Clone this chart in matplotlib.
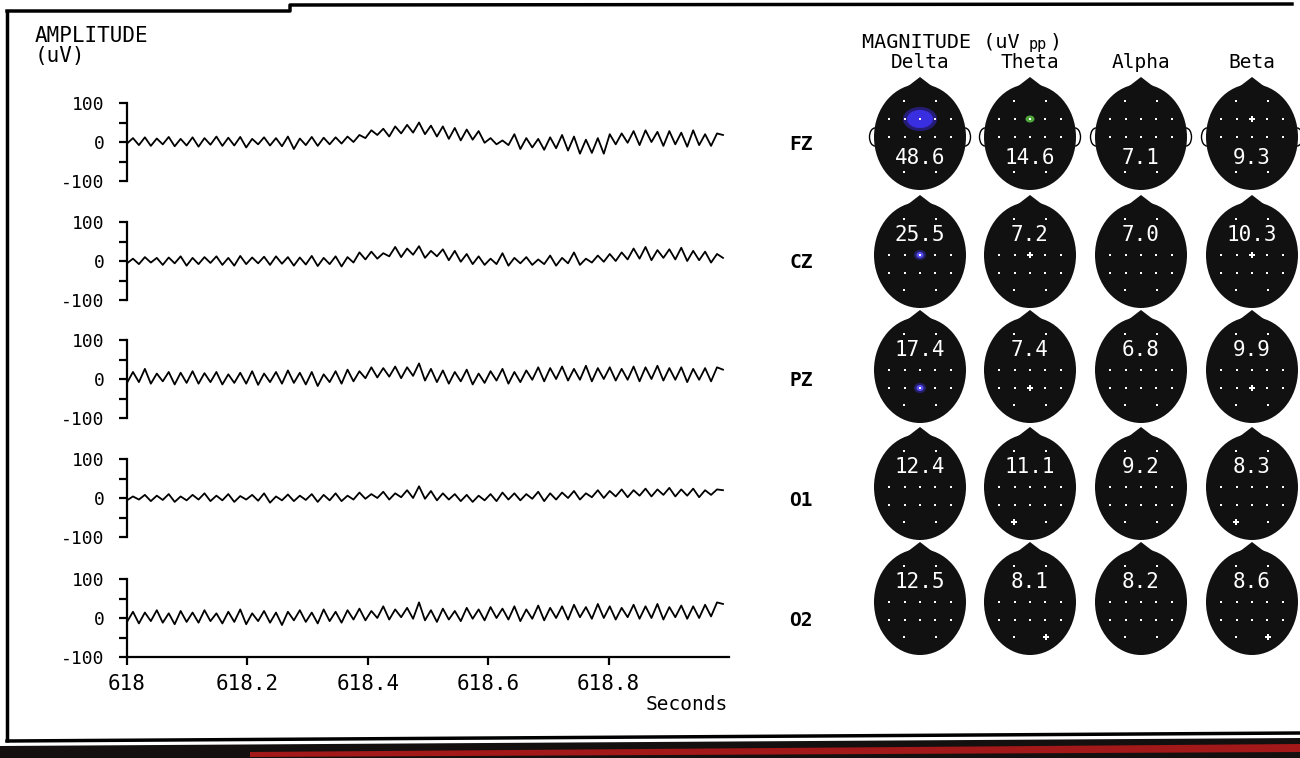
import numpy as np
import matplotlib.pyplot as plt
from matplotlib.patches import Ellipse, Polygon

plt.rcParams['font.family'] = ['DejaVu Sans Mono', 'DejaVu Sans']

W, H = 1300, 758

# ---- data ----
channels = ['FZ', 'CZ', 'PZ', 'O1', 'O2']
bands = ['Delta', 'Theta', 'Alpha', 'Beta']
magnitude = [[48.6, 14.6, 7.1, 9.3],
             [25.5, 7.2, 7.0, 10.3],
             [17.4, 7.4, 6.8, 9.9],
             [12.4, 11.1, 9.2, 8.3],
             [12.5, 8.1, 8.2, 8.6]]
xticks = [618, 618.2, 618.4, 618.6, 618.8]
xticklabels = ['618', '618.2', '618.4', '618.6', '618.8']

# trough / peak pairs of each trace (uV), last value is the end point
fz = [(-4, 10), (-8, 12), (-10, 9), (-6, 13), (-11, 8), (-9, 12), (-12, 10), (-7, 14), (-10, 11),
      (-9, 13), (-14, 8), (-6, 12), (-9, 10), (-11, 14), (-18, 9), (-8, 13), (-10, 11),
      (-6, 12), (-4, 14), (0, 18),
      (10, 30), (18, 34), (14, 40), (22, 44), (24, 50), (20, 42), (14, 40), (8, 36), (4, 32), (6, 28),
      (-2, 10), (-6, 4), (-8, 20), (-18, 10), (-14, 8), (-20, 12), (-16, 18), (-22, 14), (-30, 6),
      (-28, 10), (-30, 20),
      (-6, 22), (-2, 28), (-8, 30), (0, 26), (-10, 28), (-6, 24), (-12, 30), (-8, 20), (-10, 22)]
fz_end = 18
cz = [(-6, 6), (-8, 10), (-4, 8), (-10, 9), (-6, 12), (-12, 8), (-8, 10), (-5, 12), (-10, 8),
      (-12, 13), (-8, 9), (-6, 11),
      (-10, 12), (-7, 10), (-12, 9), (-9, 13), (-13, 8), (-8, 12), (-14, 10),
      (-4, 22), (4, 24), (6, 20),
      (12, 36), (10, 32), (16, 38), (8, 26), (12, 30),
      (2, 26), (-2, 18), (-8, 12),
      (-10, 6), (-8, 20), (-12, 8), (-6, 10),
      (-10, 4), (-8, 14), (-12, 8), (-6, 22), (-10, 6),
      (-4, 14), (-2, 18), (0, 22),
      (4, 32), (6, 36), (2, 28), (8, 30), (4, 34), (0, 26), (2, 24), (-4, 18)]
cz_end = 8
pz = [(-10, 18), (-8, 26), (-12, 14), (-6, 18), (-14, 16), (-10, 20), (-12, 15), (-8, 18),
      (-14, 12), (-10, 16), (-12, 20), (-15, 14), (-8, 18), (-12, 22), (-10, 16), (-14, 18),
      (-18, 12), (-8, 20), (-12, 24), (-6, 20),
      (2, 30), (4, 28), (6, 32), (2, 30), (8, 40),
      (-4, 26), (-8, 22), (-12, 18), (-6, 24), (-14, 14), (-10, 20), (-4, 26), (-12, 18), (-8, 22),
      (-2, 30), (-6, 28), (0, 32), (-4, 26), (-2, 34), (-6, 28), (0, 30), (-4, 26), (-2, 32),
      (-6, 30), (0, 34), (-4, 28), (-2, 30), (-8, 26), (-2, 28), (-6, 30)]
pz_end = 24
o1 = [(-6, 4), (-4, 8), (-8, 6), (-5, 10), (-10, 4), (-6, 8), (-4, 12), (-8, 6), (-6, 10),
      (-10, 5), (-4, 8), (-7, 12), (-12, 4), (-6, 9), (-8, 6), (-5, 10), (-10, 8), (-6, 12),
      (-8, 6), (-4, 14), (-2, 10), (0, 16), (-4, 12), (2, 20), (0, 30),
      (-2, 18), (-6, 12), (-4, 10), (-8, 8), (-10, 6), (-6, 10), (-8, 14), (-4, 12), (-6, 10),
      (-2, 16), (-8, 12), (-4, 14), (0, 18), (-4, 12), (2, 20), (0, 18), (4, 22), (2, 20),
      (6, 24), (4, 22), (8, 26), (4, 22), (6, 24), (2, 20), (8, 22)]
o1_end = 20
o2 = [(-10, 16), (-14, 14), (-8, 20), (-12, 12), (-16, 18), (-10, 14), (-12, 20), (-8, 12),
      (-14, 16), (-10, 22), (-16, 12), (-8, 18), (-12, 14), (-18, 16), (-6, 20), (-10, 14),
      (-14, 22), (-8, 16), (-12, 20), (-4, 24), (-6, 18), (0, 30), (-4, 22), (2, 26), (-2, 40),
      (-6, 20), (-10, 24), (-4, 18), (-8, 26), (-2, 22), (-6, 28), (0, 24), (-4, 30), (-8, 22),
      (-2, 32), (-6, 26), (0, 30), (-4, 34), (2, 28), (-2, 36), (0, 30), (-4, 26), (2, 34),
      (-2, 30), (0, 36), (-4, 28), (2, 32), (-2, 30), (0, 34), (4, 40)]
o2_end = 36

traces = [np.r_[np.ravel(fz), fz_end], np.r_[np.ravel(cz), cz_end], np.r_[np.ravel(pz), pz_end],
          np.r_[np.ravel(o1), o1_end], np.r_[np.ravel(o2), o2_end]]

# electrode with the strongest value in each map: (electrode, style)
peaks = {(0, 0): ('Fz', 'blue_big'), (0, 1): ('Fz', 'green'), (0, 3): ('Fz', 'white'),
         (1, 0): ('Cz', 'blue'), (1, 1): ('Cz', 'white'), (1, 3): ('Cz', 'white'),
         (2, 0): ('Pz', 'blue'), (2, 1): ('Pz', 'white'), (2, 3): ('Pz', 'white'),
         (3, 1): ('O1', 'white'), (3, 3): ('O1', 'white'),
         (4, 1): ('O2', 'white'), (4, 3): ('O2', 'white')}

# ---- layout (pixels) ----
electrodes = {'Fp1': (-16, -36), 'Fp2': (16, -36),
              'F7': (-31, -18), 'F3': (-15, -18), 'Fz': (0, -18), 'F4': (15, -18), 'F8': (31, -18),
              'T3': (-31, 0), 'C3': (-15, 0), 'Cz': (0, 0), 'C4': (15, 0), 'T4': (31, 0),
              'T5': (-31, 18), 'P3': (-15, 18), 'Pz': (0, 18), 'P4': (15, 18), 'T6': (31, 18),
              'O1': (-16, 35), 'O2': (16, 35)}
row_zero = [142, 261, 379, 498, 618]
half = 39
head_x = [920, 1030, 1141, 1252]
head_y = [137, 255, 370, 487, 602]

fig = plt.figure(figsize=(13, 7.58), dpi=100)
bg = fig.add_axes([0, 0, 1, 1])
bg.set_xlim(0, W)
bg.set_ylim(H, 0)
bg.axis('off')

# frame
bg.plot([7, 7], [10, 742], color='black', lw=2.5, solid_capstyle='butt')
bg.plot([7, 290, 290, 1292], [11, 11, 5, 4], color='black', lw=2.5)
bg.plot([7, 1300], [741, 733], color='black', lw=2.5)
bg.add_patch(Polygon([(0, 746), (1300, 738), (1300, 758), (0, 758)], closed=True,
                     facecolor='#141010', edgecolor='none'))
bg.add_patch(Polygon([(250, 752), (1300, 744), (1300, 752), (250, 757)], closed=True,
                     facecolor='#a31818', edgecolor='none'))

bg.text(35, 36, 'AMPLITUDE', fontsize=15, va='center', ha='left')
bg.text(35, 56, '(uV)', fontsize=15, va='center', ha='left')
bg.text(862, 42, 'MAGNITUDE (uV', fontsize=14.5, va='center', ha='left')
bg.text(1029, 44, 'pp', fontsize=11, va='center', ha='left')
bg.text(1050, 42, ')', fontsize=14.5, va='center', ha='left')
for bx, name in zip(head_x, bands):
    bg.text(bx, 63, name, fontsize=14, va='center', ha='center')
bg.text(728, 705, 'Seconds', fontsize=14, va='center', ha='right')

# ---- traces ----
for i, (ch, v) in enumerate(zip(channels, traces)):
    top = row_zero[i] - half
    ax = fig.add_axes([127 / W, 1 - (top + 2 * half) / H, 602 / W, 2 * half / H])
    ax.patch.set_alpha(0)
    t = np.linspace(618, 618.99, len(v))
    ax.plot(t, v, color='black', lw=1.3)
    ax.set_xlim(618, 619)
    ax.set_ylim(-100, 100)
    for s in ['top', 'right']:
        ax.spines[s].set_visible(False)
    ax.spines['left'].set_linewidth(1.6)
    ax.spines['bottom'].set_linewidth(1.6)
    ax.set_yticks([-100, 0, 100])
    ax.set_yticklabels(['-100', '0', '100'], fontsize=13)
    ax.set_yticks([-50, 50], minor=True)
    ax.tick_params(axis='y', which='both', direction='out', length=6, width=1.6, pad=10)
    if i < len(channels) - 1:
        ax.spines['bottom'].set_visible(False)
        ax.set_xticks([])
    else:
        ax.set_xticks(xticks)
        ax.set_xticklabels(xticklabels, fontsize=15)
        ax.tick_params(axis='x', direction='out', length=6, width=1.6, pad=6)
    bg.text(801, row_zero[i] + 2, ch, fontsize=14, fontweight='bold', va='center', ha='center')

# ---- topographic maps ----
for r in range(len(channels)):
    for c in range(len(bands)):
        cx, cy = head_x[c], head_y[r]
        if r == 0:
            for side in (-1, 1):
                bg.add_patch(Ellipse((cx + side * 45, cy), 11, 18, facecolor='white',
                                     edgecolor='black', lw=1.0, zorder=2))
        bg.add_patch(Polygon([(cx - 13, cy - 50), (cx, cy - 60), (cx + 13, cy - 50)], closed=True,
                             facecolor='#111111', edgecolor='none', zorder=3))
        bg.add_patch(Ellipse((cx, cy), 92, 106, facecolor='#111111', edgecolor='none', zorder=3))
        num_dy = 21 if r == 0 else -20
        hidden_dy = 18 if r == 0 else -18
        key = peaks.get((r, c))
        if key is not None:
            ex, ey = electrodes[key[0]]
            style = key[1]
            if style == 'blue_big':
                bg.add_patch(Ellipse((cx + ex, cy + ey), 34, 24, facecolor='#3526c8', alpha=0.55,
                                     edgecolor='none', zorder=4))
                bg.add_patch(Ellipse((cx + ex, cy + ey), 26, 18, facecolor='#3a2fe0',
                                     edgecolor='none', zorder=4))
            elif style == 'blue':
                bg.add_patch(Ellipse((cx + ex, cy + ey), 12, 10, facecolor='#3a2fc8', alpha=0.5,
                                     edgecolor='none', zorder=4))
                bg.add_patch(Ellipse((cx + ex, cy + ey), 7, 6, facecolor='#5a4ff0',
                                     edgecolor='none', zorder=4))
            elif style == 'green':
                bg.add_patch(Ellipse((cx + ex, cy + ey), 9, 7, facecolor='#4fa83c',
                                     edgecolor='none', zorder=4))
        for name, (ex, ey) in electrodes.items():
            if ey == hidden_dy:
                continue
            size = 3
            if key is not None and key[0] == name and key[1] == 'white':
                size = 14
            bg.scatter(cx + ex, cy + ey, s=size, color='white', marker='s' if size < 5 else 'P',
                       linewidths=0, zorder=5)
        bg.text(cx, cy + num_dy, f'{magnitude[r][c]:.1f}', color='white', fontsize=15,
                va='center', ha='center', zorder=6)

fig.savefig('out.png', dpi=100)
